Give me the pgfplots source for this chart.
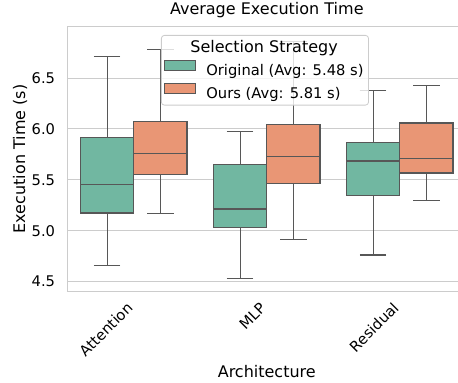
\documentclass[border=0pt]{standalone}
\usepackage{pgfplots}
\pgfplotsset{compat=1.18}
\usepgfplotslibrary{statistics}
\usepackage{fontspec}
\setmainfont{DejaVu Sans}
\definecolor{cgreen}{HTML}{71B7A1}
\definecolor{corange}{HTML}{E99675}
\definecolor{cline}{HTML}{575757}
\definecolor{cgrid}{HTML}{CCCCCC}
\pgfplotsset{
  mybox/.style={draw=cline, fill=#1, line width=1.1pt, solid, mark=none},
}
\begin{document}
\begin{tikzpicture}
\begin{axis}[
  name=ax,
  scale only axis,
  width=399pt, height=264pt,
  xmin=-0.5, xmax=2.5,
  ymin=4.407, ymax=7.003,
  xtick={0,1,2},
  xticklabels={Attention,MLP,Residual},
  ytick={4.5,5,5.5,6,6.5},
  /pgf/number format/assume math mode=true,
  yticklabel style={/pgf/number format/fixed,/pgf/number format/precision=1,/pgf/number format/fixed zerofill,
    font=\fontsize{14.7}{17}\selectfont, inner sep=0pt, anchor=east, xshift=-12pt},
  xticklabel style={font=\fontsize{14.7}{17}\selectfont, inner sep=0pt, xshift=0pt, yshift=-18pt, rotate=45, anchor=base east},
  major tick length=0pt,
  ymajorgrids,
  grid style={cgrid, line width=1pt},
  axis line style={cgrid, line width=1pt},
  title={Average Execution Time},
  title style={font=\fontsize{16}{19}\selectfont, at={(axis description cs:0.5,1)}, anchor=base, yshift=6.5pt},
  xlabel={Architecture},
  every axis x label/.style={at={(axis description cs:0.5,-0.3277)}, anchor=base, font=\fontsize{16}{19}\selectfont},
  ylabel={Execution Time (s)},
  every axis y label/.style={at={(axis description cs:-0.1185,0.5)}, rotate=90, anchor=center, font=\fontsize{16}{19}\selectfont},
  legend style={at={(axis description cs:0.2348,0.9697)}, anchor=north west,
    draw=cgrid, line width=0.8pt, rounded corners=3pt, fill=white, fill opacity=0.8, text opacity=1, draw opacity=1,
    font=\fontsize{14.7}{17}\selectfont, inner xsep=3pt, inner ysep=3pt, nodes={inner sep=2pt},
    column sep=8pt, row sep=3.5pt},
  legend cell align=left,
  boxplot/draw direction=y,
  boxplot/box extend=0.4,
  boxplot/whisker extend=0.2,
]
\addlegendimage{empty legend}
\addlegendentry{\hspace{-16pt}\fontsize{16}{19}\selectfont Selection Strategy}

% Attention
\addplot[mybox=cgreen,
  legend image code/.code={\draw[sharp corners,fill opacity=1,draw=cline,fill=cgreen,line width=1pt] (0pt,0pt) rectangle (31pt,10.7pt);},
  boxplot prepared={draw position=-0.2, lower whisker=4.660, lower quartile=5.174, median=5.456, upper quartile=5.918, upper whisker=6.711}]
  coordinates {};
\addlegendentry{Original (Avg: 5.48 s)}
\addplot[mybox=corange,
  legend image code/.code={\draw[sharp corners,fill opacity=1,draw=cline,fill=corange,line width=1pt] (0pt,0pt) rectangle (31pt,10.7pt);},
  boxplot prepared={draw position=0.2, lower whisker=5.171, lower quartile=5.555, median=5.761, upper quartile=6.072, upper whisker=6.784}]
  coordinates {};
\addlegendentry{Ours (Avg: 5.81 s)}
% MLP
\addplot[forget plot, mybox=cgreen,
  boxplot prepared={draw position=0.8, lower whisker=4.528, lower quartile=5.033, median=5.213, upper quartile=5.653, upper whisker=5.973}]
  coordinates {};
\addplot[forget plot, mybox=corange,
  boxplot prepared={draw position=1.2, lower whisker=4.909, lower quartile=5.462, median=5.728, upper quartile=6.042, upper whisker=6.860}]
  coordinates {};
% Residual
\addplot[forget plot, mybox=cgreen,
  boxplot prepared={draw position=1.8, lower whisker=4.761, lower quartile=5.344, median=5.685, upper quartile=5.869, upper whisker=6.377}]
  coordinates {};
\addplot[forget plot, mybox=corange,
  boxplot prepared={draw position=2.2, lower whisker=5.295, lower quartile=5.567, median=5.712, upper quartile=6.059, upper whisker=6.430}]
  coordinates {};
\end{axis}
\pgfresetboundingbox
\path[use as bounding box] ([xshift=-67.3pt,yshift=-92pt]ax.south west) rectangle ([xshift=390.7pt,yshift=27pt]ax.north west);
\end{tikzpicture}
\end{document}
